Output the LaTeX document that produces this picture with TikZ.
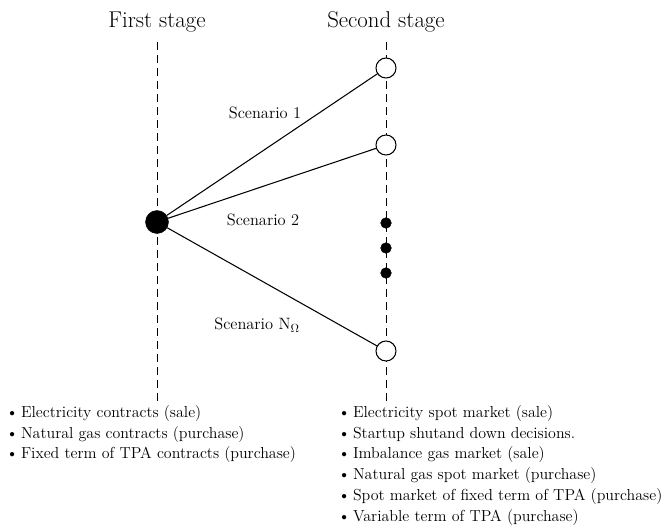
\documentclass[tikz,border=0pt]{standalone}
\usepackage{tikz}
\usetikzlibrary{positioning}
\tikzset{
    every node/.append style={align=center},
    stagelbl/.style={font=\fontsize{19.5}{22}\selectfont},
    scen/.style={font=\fontsize{14}{16}\selectfont},
    root/.style={circle,fill=black,draw=black,minimum size=0.69cm,inner sep=0pt},
    leaf/.style={circle,fill=white,draw=black,line width=0.9pt,minimum size=0.6cm,inner sep=0pt},
    dotn/.style={circle,fill=black,draw=black,minimum size=0.32cm,inner sep=0pt},
    stageline/.style={line width=0.8pt,dash pattern=on 6.8pt off 4.3pt},
    branch/.style={line width=0.9pt},
    blist/.style={align=left,anchor=north west,inner sep=0pt,font=\fontsize{13.6}{17.8}\selectfont}
}

\begin{document}
\begin{tikzpicture}[x=0.03cm,y=-0.03cm]
    \useasboundingbox (0,0) rectangle (668,527);
    \node[stagelbl] (first) at (157,22) {First stage};
    \node[stagelbl] (second) at (386,22) {Second stage};

    \coordinate (ftop) at (157,42);
    \coordinate (fbot) at (157,402);
    \coordinate (stop) at (386,42);
    \coordinate (sbot) at (386,402);
    \draw[stageline] (ftop) -- (fbot);
    \draw[stageline] (stop) -- (sbot);

    \node[root] (root) at (157,222) {};
    \node[leaf] (s1) at (386,68) {};
    \node[leaf] (s2) at (386,145) {};
    \node[leaf] (sn) at (386,351) {};
    \node[dotn] (d1) at (386,223) {};
    \node[dotn] (d2) at (386,248) {};
    \node[dotn] (d3) at (386,273) {};

    \draw[branch] (root) -- (s1);
    \draw[branch] (root) -- (s2);
    \draw[branch] (root) -- (sn);

    \node[scen] (l1) at (265,113) {Scenario 1};
    \node[scen] (l2) at (263,220) {Scenario 2};
    \node[scen] (ln) at (257,325) {Scenario N$_{\Omega}$};

    \node[blist] (firstdec) at (6,405) {\textbullet\,Electricity contracts (sale)\\
        \textbullet\,Natural gas contracts (purchase)\\
        \textbullet\,Fixed term of TPA contracts (purchase)};
    \node[blist] (seconddec) at (338,405) {\textbullet\,Electricity spot market (sale)\\
        \textbullet\,Startup shutand down decisions.\\
        \textbullet\,Imbalance gas market (sale)\\
        \textbullet\,Natural gas spot market (purchase)\\
        \textbullet\,Spot market of fixed term of TPA (purchase)\\
        \textbullet\,Variable term of TPA (purchase)};
\end{tikzpicture}
\end{document}
